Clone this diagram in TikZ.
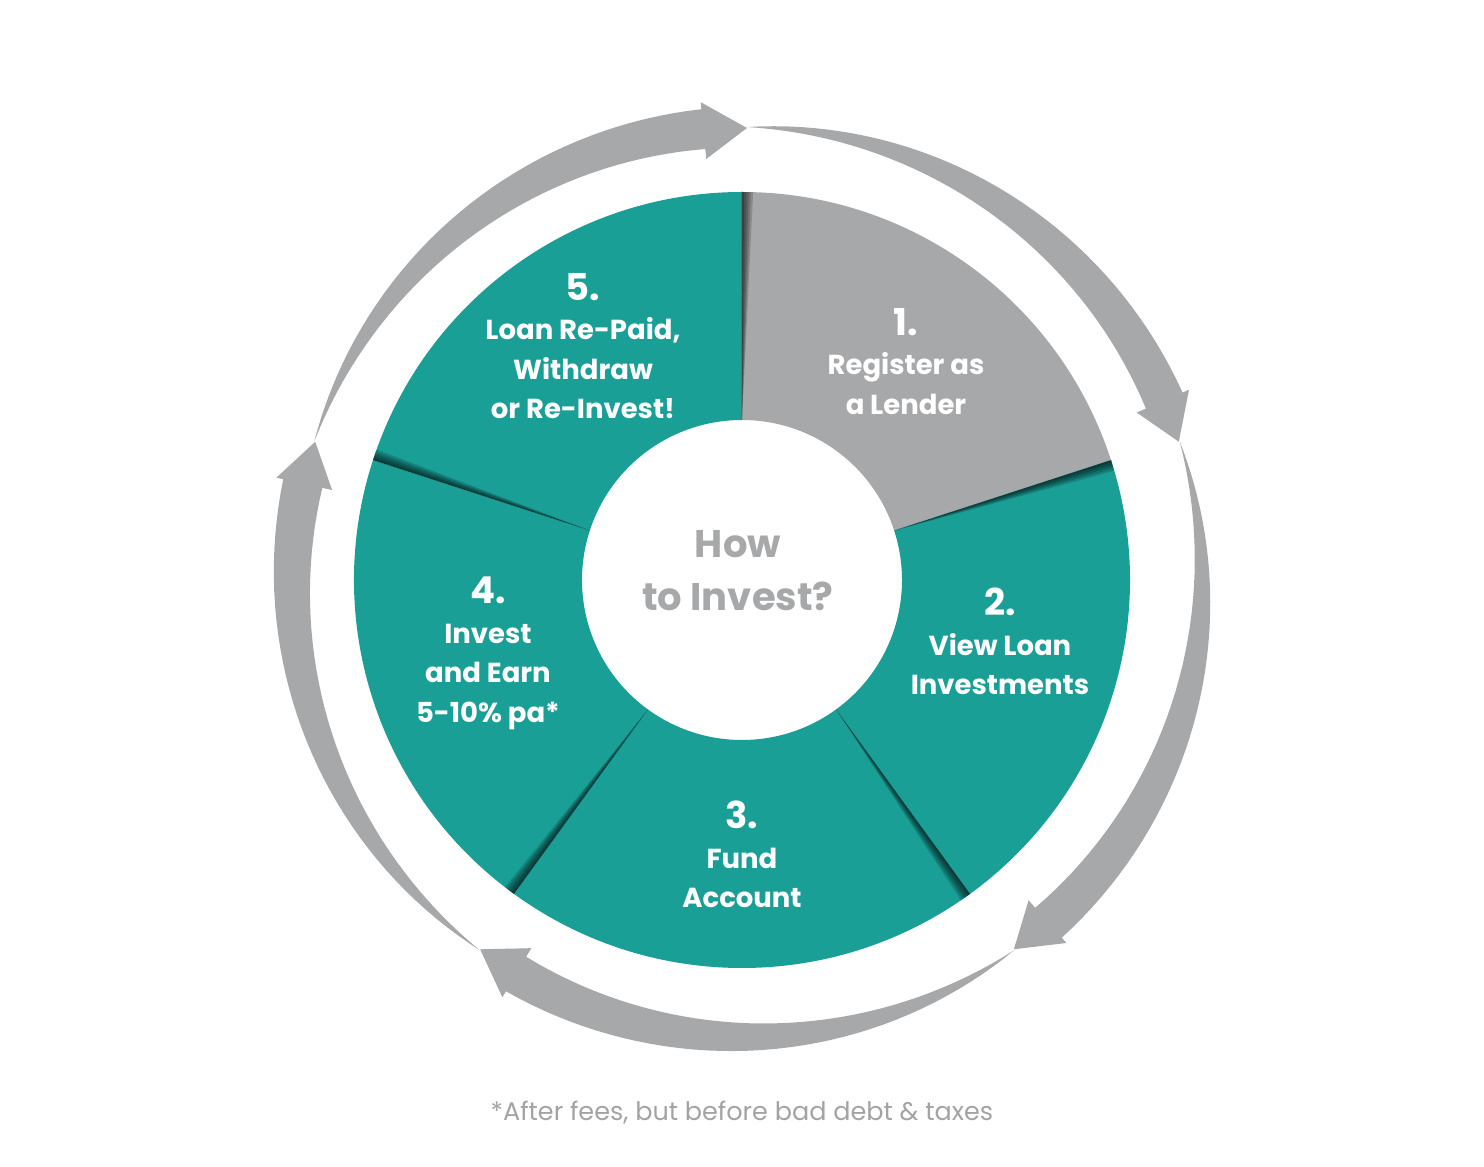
\documentclass[tikz,border=0pt]{standalone}
\usepackage{fontspec}
\setmainfont{Poppins}
\usepackage{tikz}
\usetikzlibrary{positioning}
\definecolor{stepteal}{HTML}{1A9F97}
\definecolor{stepgray}{HTML}{A7A8AA}
\definecolor{notegray}{HTML}{A3A3A3}

\begin{document}
\begin{tikzpicture}[x=1pt, y=1pt,
  steptext/.style={text=white, font=\bfseries\fontsize{27.5}{39.5}\selectfont, align=center, inner sep=0pt, anchor=north},
  ringarrow/.style={fill=stepgray}]
  \useasboundingbox (-742,-587) rectangle (742,580);
  % pie segments
  \foreach \a/\col in {90/stepgray, 18/stepteal, -54/stepteal, -126/stepteal, 162/stepteal} {
    \fill[\col] (\a:160) -- (\a:388) arc[start angle=\a, end angle=\a-72, radius=388pt] -- ({\a-72}:160) arc[start angle=\a-72, end angle=\a, radius=160pt] -- cycle;
  }
  % shadows along the boundaries
  \foreach \a in {90, 18, -54, -126, 162} {
    \foreach \i in {1,...,5} {
      \fill[black, fill opacity=0.17] (\a:160) -- (\a:388) arc[start angle=\a, end angle=\a-0.33*\i, radius=388pt] -- cycle;
    }
  }
  % ring arrows
  \begin{scope}[shift={(5,-2)}]
    \foreach \a in {162, 90, 18, -54, -126} {
      \fill[ringarrow] plot[domain=0:1, samples=40] ({\a-66.5*\x}:{455+20*(1.6*\x-0.6*\x*\x)})
        -- ({\a-66.5}:482) -- ({\a-72}:454) -- ({\a-66.5}:425)
        -- plot[domain=1:0, samples=40] ({\a-66.5*\x}:{455-20*(1.6*\x-0.6*\x*\x)}) -- cycle;
    }
  \end{scope}
  % labels
  \node[steptext] (step1) at (164, 272) {{\fontsize{37}{40}\selectfont 1.}\\Register as\\a Lender};
  \node[steptext] (step2) at (258, -8) {{\fontsize{37}{40}\selectfont 2.}\\View Loan\\Investments};
  \node[steptext] (step3) at (0, -221) {{\fontsize{37}{40}\selectfont 3.}\\Fund\\Account};
  \node[steptext] (step4) at (-254, 3) {{\fontsize{37}{40}\selectfont 4.}\\Invest\\and Earn\\5-10\% pa*};
  \node[steptext] (step5) at (-159, 307) {{\fontsize{37}{40}\selectfont 5.}\\Loan Re-Paid,\\Withdraw\\or Re-Invest!};
  \node[font=\bfseries\fontsize{38.5}{53}\selectfont, text=stepgray, align=center, inner sep=0pt, anchor=north] (howto) at (-4, 50) {How\\to Invest?};
  \node[font=\fontsize{25.5}{30}\selectfont, text=notegray, anchor=base] (note) at (0, -540) {*After fees, but before bad debt \& taxes};
\end{tikzpicture}
\end{document}
